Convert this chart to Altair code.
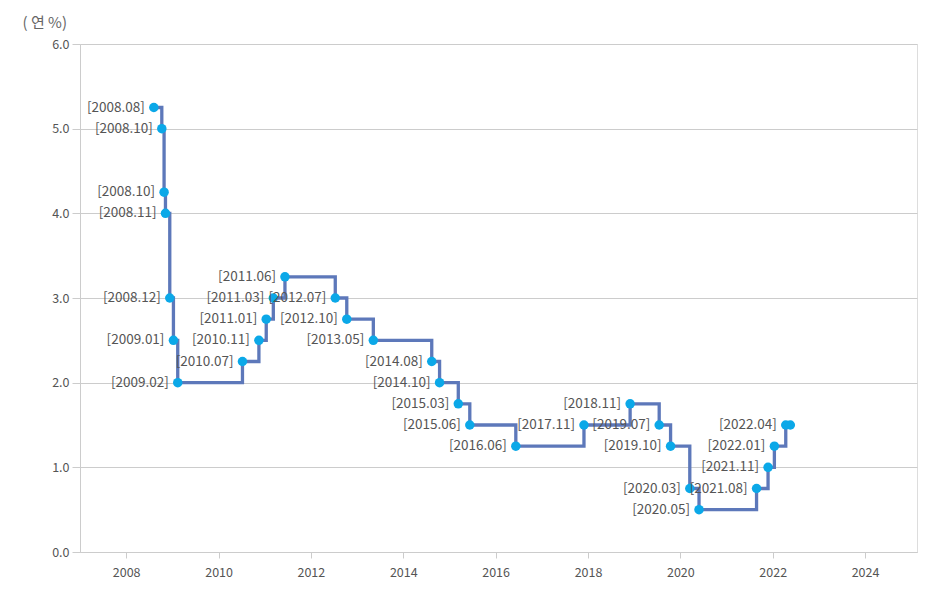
import altair as alt
import pandas as pd

dates = [
    "2008-08-07", "2008-10-09", "2008-10-27", "2008-11-07", "2008-12-11",
    "2009-01-09", "2009-02-12", "2010-07-09", "2010-11-16", "2011-01-13",
    "2011-03-10", "2011-06-10", "2012-07-12", "2012-10-11", "2013-05-09",
    "2014-08-14", "2014-10-15", "2015-03-12", "2015-06-11", "2016-06-09",
    "2017-11-30", "2018-11-30", "2019-07-18", "2019-10-16", "2020-03-16",
    "2020-05-28", "2021-08-26", "2021-11-25", "2022-01-14", "2022-04-14",
    "2022-05-20",
]
rates = [
    5.25, 5.00, 4.25, 4.00, 3.00,
    2.50, 2.00, 2.25, 2.50, 2.75,
    3.00, 3.25, 3.00, 2.75, 2.50,
    2.25, 2.00, 1.75, 1.50, 1.25,
    1.50, 1.75, 1.50, 1.25, 0.75,
    0.50, 0.75, 1.00, 1.25, 1.50,
    1.50,
]
labels = [
    "[2008.08]", "[2008.10]", "[2008.10]", "[2008.11]", "[2008.12]",
    "[2009.01]", "[2009.02]", "[2010.07]", "[2010.11]", "[2011.01]",
    "[2011.03]", "[2011.06]", "[2012.07]", "[2012.10]", "[2013.05]",
    "[2014.08]", "[2014.10]", "[2015.03]", "[2015.06]", "[2016.06]",
    "[2017.11]", "[2018.11]", "[2019.07]", "[2019.10]", "[2020.03]",
    "[2020.05]", "[2021.08]", "[2021.11]", "[2022.01]", "[2022.04]",
    "",
]
year_ticks = [2008, 2010, 2012, 2014, 2016, 2018, 2020, 2022, 2024]
y_ticks = [0, 1, 2, 3, 4, 5, 6]

df = pd.DataFrame({"date": dates, "rate": rates, "label": labels})

FONT = "Noto Sans CJK KR"

x_scale = alt.Scale(domain=[alt.DateTime(year=2007, month=1, date=1),
                            alt.DateTime(year=2025, month=2, date=15)])
x_enc = alt.X(
    "date:T",
    scale=x_scale,
    axis=alt.Axis(
        title=None,
        values=[alt.DateTime(year=y, month=1, date=1) for y in year_ticks],
        format="%Y",
        grid=False,
        domainColor="#cccccc",
        tickColor="#cccccc",
        tickSize=6,
        labelPadding=8,
        labelFontSize=12.5,
        labelColor="#555555",
        labelFont=FONT,
    ),
)
y_enc = alt.Y(
    "rate:Q",
    scale=alt.Scale(domain=[0, 6]),
    axis=alt.Axis(
        title="( 연 %)",
        titleAngle=0,
        titleAlign="left",
        titleBaseline="middle",
        titleX=-58,
        titleY=-22,
        titleFontWeight="normal",
        titleFontSize=15,
        titleColor="#666666",
        titleFont=FONT,
        values=y_ticks,
        format=".1f",
        gridColor="#cccccc",
        domainColor="#cccccc",
        tickColor="#cccccc",
        tickSize=8,
        labelPadding=3,
        labelFontSize=12.5,
        labelColor="#555555",
        labelFont=FONT,
    ),
)

base = alt.Chart(df).encode(x=x_enc, y=y_enc)

line = base.mark_line(interpolate="step-after", color="#5d78ba", strokeWidth=3.3)
points = base.mark_circle(size=90, color="#0ba8e8", opacity=1)
text = base.mark_text(
    align="right", baseline="middle", dx=-9, fontSize=13.5, font=FONT, color="#555555"
).encode(text="label:N")

chart = (
    alt.layer(line, points, text)
    .properties(
        width=837,
        height=508,
        autosize=alt.AutoSizeParams(type="none"),
        padding={"left": 72, "top": 36, "right": 11, "bottom": 30},
    )
    .configure_view(stroke="#dddddd")
    .configure(background="white")
)

chart.save("out.html", embed_options={"renderer": "svg", "actions": False})
